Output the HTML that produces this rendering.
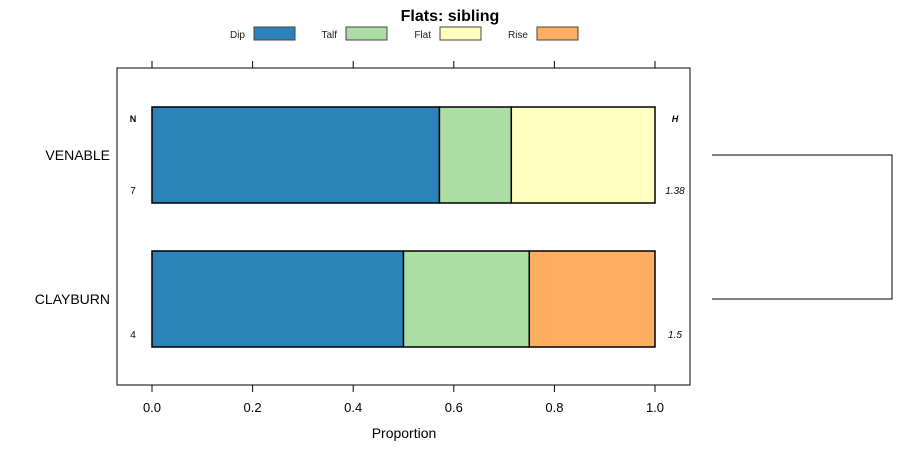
<!DOCTYPE html>
<html><head><meta charset="utf-8"><style>body{margin:0;background:#fff}svg{display:block;font-family:"Liberation Sans",sans-serif}</style></head>
<body>
<svg id="c" width="900" height="460">
<text x="450" y="21" text-anchor="middle" font-size="16" font-weight="bold">Flats: sibling</text>
<g id="legend"></g>
<rect x="117" y="68" width="573" height="317" fill="none" stroke="#000" stroke-width="1"/>
<g id="ticks"></g>
<g id="bars"></g>
<text x="133" y="122" font-size="9" font-weight="bold" text-anchor="middle">N</text>
<text x="675" y="122" font-size="9" font-weight="bold" font-style="italic" text-anchor="middle">H</text>
<text x="404" y="438" font-size="14" text-anchor="middle">Proportion</text>
<path d="M712 155H892V299H712" fill="none" stroke="#000"/>
</svg>
<script>
const categories=["VENABLE","CLAYBURN"];
const seriesNames=["Dip","Talf","Flat","Rise"];
const colors=["#2C83B9","#ABDDA4","#FFFFBF","#FDAE61"];
const dip=[0.5714,0.5];
const talf=[0.1429,0.25];
const flat=[0.2857,0];
const rise=[0,0.25];
const nVals=["7","4"];
const hVals=["1.38","1.5"];
const ticks=[0,0.2,0.4,0.6,0.8,1.0];
const tickLabels=["0.0","0.2","0.4","0.6","0.8","1.0"];
const NS="http://www.w3.org/2000/svg";
const x=v=>152+v*503;
const yTop=[107,251];const bh=96;
function mk(t,a,p){const e=document.createElementNS(NS,t);for(const k in a)e.setAttribute(k,a[k]);p.appendChild(e);return e;}
const svg=document.getElementById('c');
const tg=document.getElementById('ticks');
ticks.forEach((t,i)=>{
 const l1=mk('line',{x1:x(t),x2:x(t),y1:61,y2:68,stroke:'#000'},tg);
 
 
 const l2=mk('line',{x1:x(t),x2:x(t),y1:385,y2:392,stroke:'#000'},tg);
 
 
 const tx=mk('text',{x:x(t),y:412,'font-size':13,'text-anchor':'middle'},tg);tx.textContent=tickLabels[i];
 
 
});
const bg=document.getElementById('bars');
const series=[dip,talf,flat,rise];
categories.forEach((c,i)=>{
 let acc=0;
 series.forEach((s,j)=>{
  if(s[i]>0){
   const r=mk('rect',{x:x(acc),y:yTop[i],width:x(acc+s[i])-x(acc),height:bh,fill:colors[j],stroke:'#000','stroke-width':1.5},bg);
   
   
   acc+=s[i];
  }
 });
 const lab=mk('text',{x:110,y:yTop[i]+bh/2+5,'font-size':14,'text-anchor':'end'},bg);lab.textContent=c;
 
 
 const n=mk('text',{x:133,y:yTop[i]+bh-9,'font-size':10,'text-anchor':'middle'},bg);n.textContent=nVals[i];
 
 
 const h=mk('text',{x:675,y:yTop[i]+bh-9,'font-size':10,'font-style':'italic','text-anchor':'middle'},bg);h.textContent=hVals[i];
 
 
});
const lg=document.getElementById('legend');
const lx=[254,346,440,537];
seriesNames.forEach((s,j)=>{
 const t=mk('text',{x:lx[j]-9,y:38,'font-size':10,'text-anchor':'end',fill:'#222'},lg);t.textContent=s;
 
 
 const r=mk('rect',{x:lx[j],y:27,width:41,height:13,fill:colors[j],stroke:'#444'},lg);
 
 
});
</script>
</body></html>
